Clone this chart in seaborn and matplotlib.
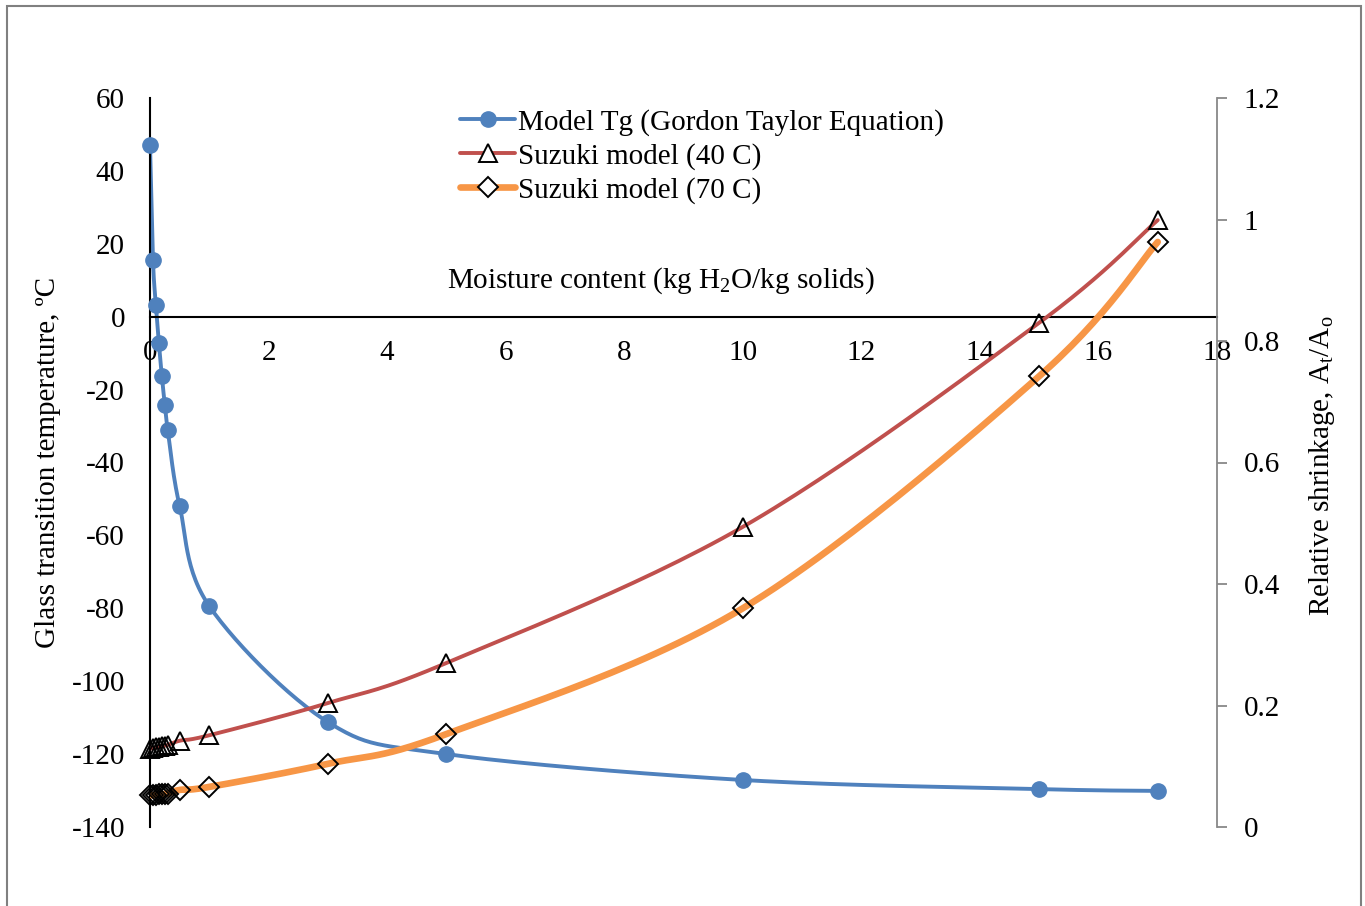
import numpy as np
import matplotlib
matplotlib.use("Agg")
import matplotlib.pyplot as plt
import seaborn as sns
from matplotlib.lines import Line2D
from matplotlib.patches import Rectangle

# ---- data ----
moisture = [0, 0.05, 0.1, 0.15, 0.2, 0.25, 0.3, 0.5, 1, 3, 5, 10, 15, 17]
tg_model = [47.1, 15.5, 3.2, -7.3, -16.3, -24.2, -31.1, -51.9, -79.4, -111.2, -120.0, -127.1, -129.6, -130.1]
suzuki_40 = [0.129, 0.130, 0.131, 0.132, 0.133, 0.134, 0.135, 0.142, 0.151, 0.204, 0.270, 0.494, 0.830, 0.999]
suzuki_70 = [0.052, 0.0525, 0.053, 0.0535, 0.054, 0.0545, 0.055, 0.061, 0.066, 0.104, 0.153, 0.360, 0.742, 0.963]
left_ticks = [-140, -120, -100, -80, -60, -40, -20, 0, 20, 40, 60]
right_ticks = [0, 0.2, 0.4, 0.6, 0.8, 1.0, 1.2]
right_tick_labels = ["0", "0.2", "0.4", "0.6", "0.8", "1", "1.2"]
x_ticks = [0, 2, 4, 6, 8, 10, 12, 14, 16, 18]

BLUE = "#4F81BD"
RED = "#C0504D"
ORANGE = "#F79646"


def smooth(xs, ys, n=30):
    """Excel-like smoothed line (Catmull-Rom Bezier) through data points."""
    p = np.column_stack([xs, ys]).astype(float)
    out = []
    for i in range(len(p) - 1):
        p0 = p[i - 1] if i > 0 else p[i]
        p1 = p[i]
        p2 = p[i + 1]
        p3 = p[i + 2] if i + 2 < len(p) else p[i + 1]
        c1 = p1 + (p2 - p0) / 6.0
        c2 = p2 - (p3 - p1) / 6.0
        t = np.linspace(0, 1, n)[:, None]
        seg = ((1 - t) ** 3) * p1 + 3 * ((1 - t) ** 2) * t * c1 + 3 * (1 - t) * t ** 2 * c2 + t ** 3 * p2
        out.append(seg if i == 0 else seg[1:])
    s = np.vstack(out)
    return s[:, 0], s[:, 1]


sns.set_theme(style="white")
plt.rcParams["font.family"] = ["Liberation Serif", "DejaVu Serif"]
plt.rcParams["mathtext.fontset"] = "custom"
plt.rcParams["mathtext.rm"] = "Liberation Serif"
plt.rcParams["mathtext.it"] = "Liberation Serif:italic"
for k in ["text.color", "axes.labelcolor", "xtick.color", "ytick.color"]:
    plt.rcParams[k] = "black"

FS = 21
fig = plt.figure(figsize=(13.65, 9.06), dpi=100)
ax = fig.add_axes([150 / 1365, 1 - 827 / 906, (1217 - 150) / 1365, (827 - 98) / 906])
ax2 = ax.twinx()

# left axis: Tg
sx, sy = smooth(moisture, tg_model)
sns.lineplot(x=sx, y=sy, ax=ax, color=BLUE, lw=2.8, sort=False, estimator=None)
ax.plot(moisture, tg_model, ls="none", marker="o", ms=11, color=BLUE, mec=BLUE, clip_on=False, zorder=5)

# right axis: Suzuki models
sx, sy = smooth(moisture, suzuki_40)
sns.lineplot(x=sx, y=sy, ax=ax2, color=RED, lw=2.8, sort=False, estimator=None)
ax2.plot(moisture, suzuki_40, ls="none", marker="^", ms=12.5, mfc="none", mec="black", mew=1.4, clip_on=False, zorder=5)
sx, sy = smooth(moisture, suzuki_70)
sns.lineplot(x=sx, y=sy, ax=ax2, color=ORANGE, lw=4.8, sort=False, estimator=None)
ax2.plot(moisture, suzuki_70, ls="none", marker="D", ms=10, mfc="none", mec="black", mew=1.4, clip_on=False, zorder=5)

ax.set_xlim(0, 18)
ax.set_ylim(-140, 60)
ax2.set_ylim(0, 1.2)
ax.set_xticks(x_ticks)
ax.set_xticklabels([str(v) for v in x_ticks])
ax.set_yticks(left_ticks)
ax.set_yticklabels([str(v) for v in left_ticks])
ax2.set_yticks(right_ticks)
ax2.set_yticklabels(right_tick_labels)

for s in ["top", "right"]:
    ax.spines[s].set_visible(False)
ax.spines["bottom"].set_position(("data", 0))
ax.spines["bottom"].set_color("black")
ax.spines["bottom"].set_linewidth(1.5)
ax.spines["left"].set_color("black")
ax.spines["left"].set_linewidth(1.5)
ax.tick_params(axis="x", length=0, pad=17, colors="black", labelsize=FS)
ax.tick_params(axis="y", length=0, pad=18, colors="black", labelsize=FS)

for s in ["top", "left", "bottom"]:
    ax2.spines[s].set_visible(False)
ax2.spines["right"].set_color("#888888")
ax2.spines["right"].set_linewidth(1.3)
ax2.tick_params(axis="y", length=7, width=1.3, color="#888888", pad=12, labelcolor="black",
                direction="out", labelsize=FS)
ax2.grid(False)
ax.grid(False)

ax.set_ylabel("Glass transition temperature, ºC", fontsize=FS, labelpad=0)
ax.yaxis.set_label_coords(-(150 - 61) / 1067, 0.5)
ax2.set_ylabel(r"Relative shrinkage, A$_\mathrm{t}$/A$_\mathrm{o}$", fontsize=FS)
ax2.yaxis.set_label_coords(1 + (1307 - 1217) / 1067, 0.495)
ax.set_xlabel("")
ax.text(8.62, 9.8, r"Moisture content (kg H$_\mathrm{2}$O/kg solids)", fontsize=FS,
        ha="center", va="center", color="black")

handles = [
    Line2D([0], [0], color=BLUE, lw=2.8, marker="o", ms=11, mec=BLUE),
    Line2D([0], [0], color=RED, lw=2.8, marker="^", ms=12.5, mfc="white", mec="black", mew=1.4),
    Line2D([0], [0], color=ORANGE, lw=4.8, marker="D", ms=10, mfc="white", mec="black", mew=1.4),
]
labels = ["Model Tg (Gordon Taylor Equation)", "Suzuki model (40 C)", "Suzuki model (70 C)"]
leg = ax.legend(handles, labels, loc="upper left", bbox_to_anchor=((460 - 150) / 1067, 1.0 - (109 - 98) / 729),
                frameon=False, fontsize=FS, handlelength=1.9, handletextpad=0.1,
                labelspacing=0.24, borderaxespad=0, borderpad=0)
leg.set_zorder(10)

fig.patches.append(Rectangle((7 / 1365, -0.05), (1361 - 7) / 1365, 1.05 - 6 / 906,
                             transform=fig.transFigure, fill=False, ec="#808080", lw=1.5))

fig.savefig("out.png", dpi=100, facecolor="white")
